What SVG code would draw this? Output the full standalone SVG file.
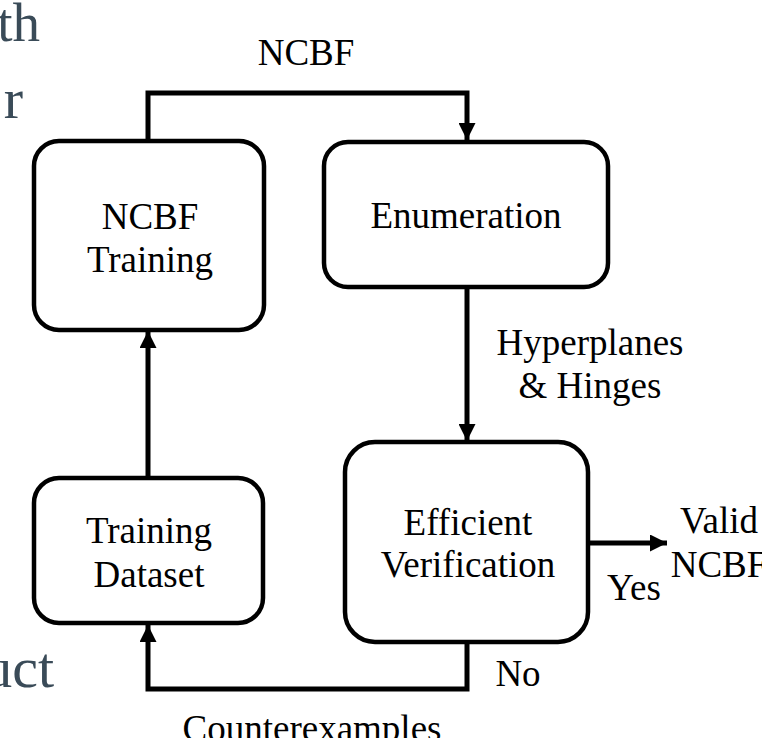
<svg xmlns="http://www.w3.org/2000/svg" width="762" height="738" viewBox="0 0 762 738">
  <defs>
    <marker id="arrow" viewBox="0 0 17 17" markerWidth="17" markerHeight="17" refX="17" refY="8.5" orient="auto" markerUnits="userSpaceOnUse">
      <path d="M0,0 L17,8.5 L0,17 z" fill="#000"/>
    </marker>
    <style>
      .box { fill: #fff; stroke: #000; stroke-width: 4.5; }
      .conn { fill: none; stroke: #000; stroke-width: 5; stroke-linejoin: miter; }
      .t { font-family: "Liberation Serif", "Times New Roman", serif; font-size: 37px; fill: #000; text-anchor: middle; }
      .bg { font-family: "Liberation Serif", "Times New Roman", serif; fill: #3a4b58; text-anchor: end; }
    </style>
  </defs>
  <rect width="762" height="738" fill="#fff"/>

  <g id="slide-fragments">
    <text class="bg" x="40" y="41" font-size="55">th</text>
    <text class="bg" x="23" y="118" font-size="58">r</text>
    <text class="bg" x="54" y="687" font-size="58">uct</text>
  </g>

  <g id="connectors">
    <path class="conn" d="M148,141 V93 H467 V140" marker-end="url(#arrow)"/>
    <path class="conn" d="M467,287 V441" marker-end="url(#arrow)"/>
    <path class="conn" d="M148,478 V331" marker-end="url(#arrow)"/>
    <path class="conn" d="M467,642 V689 H148 V625" marker-end="url(#arrow)"/>
    <path class="conn" d="M588,543 H667" marker-end="url(#arrow)"/>
  </g>

  <g id="node-ncbf-training">
    <rect class="box" x="34" y="141" width="230" height="189" rx="25" ry="25"/>
    <text class="t" x="150" y="229">NCBF</text>
    <text class="t" x="150" y="272">Training</text>
  </g>

  <g id="node-enumeration">
    <rect class="box" x="324" y="142" width="284" height="145" rx="24" ry="24"/>
    <text class="t" x="466" y="228">Enumeration</text>
  </g>

  <g id="node-efficient-verification">
    <rect class="box" x="345" y="442" width="243" height="200" rx="30" ry="30"/>
    <text class="t" x="468" y="535">Efficient</text>
    <text class="t" x="468" y="577">Verification</text>
  </g>

  <g id="node-training-dataset">
    <rect class="box" x="34" y="478" width="229" height="145" rx="25" ry="25"/>
    <text class="t" x="149" y="543">Training</text>
    <text class="t" x="149" y="587">Dataset</text>
  </g>

  <g id="labels">
    <text class="t" x="306" y="65">NCBF</text>
    <text class="t" x="590" y="355">Hyperplanes</text>
    <text class="t" x="590" y="398">&amp; Hinges</text>
    <text class="t" x="719" y="533">Valid</text>
    <text class="t" x="719" y="577">NCBF</text>
    <text class="t" x="634" y="600">Yes</text>
    <text class="t" x="518" y="686">No</text>
    <text class="t" x="312" y="741">Counterexamples</text>
  </g>
</svg>
